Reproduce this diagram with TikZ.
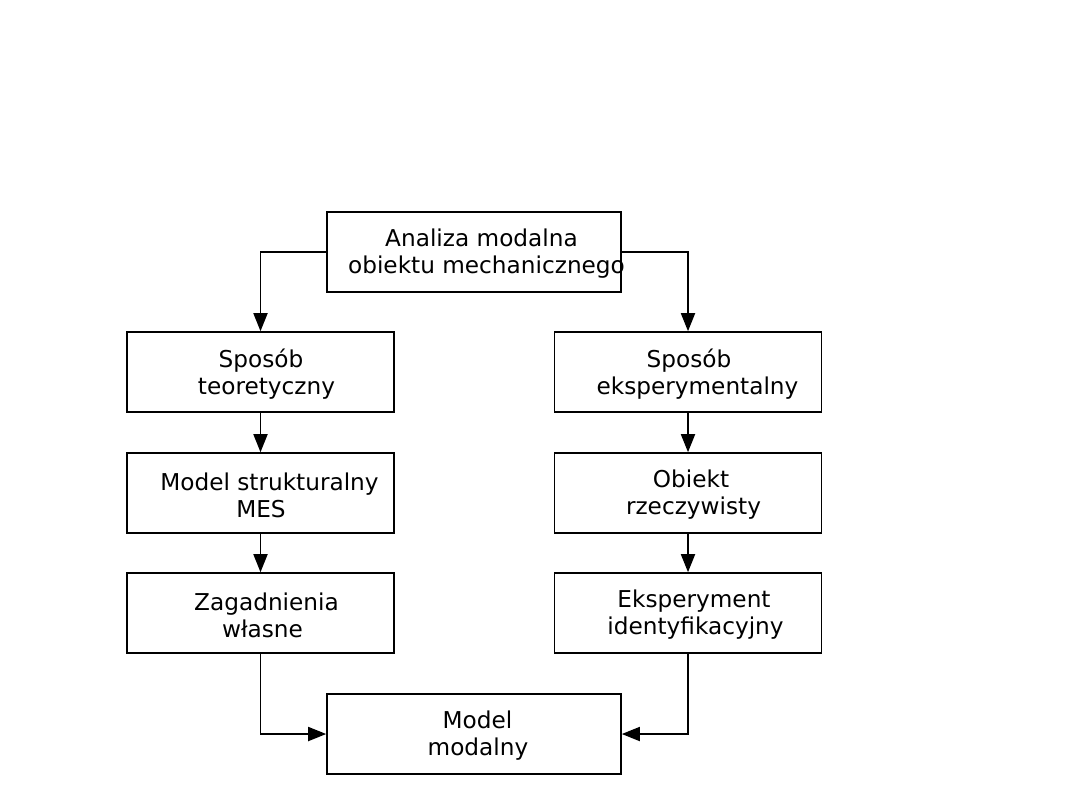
\documentclass[tikz,border=0pt]{standalone}
\usepackage{fontspec}
\setmainfont{DejaVu Sans}
\usetikzlibrary{arrows.meta}
\newcommand\shiftln[2]{\hspace*{#1pt}#2}
\begin{document}
\begin{tikzpicture}[x=0.5pt,y=-0.5pt,
  box/.style={draw,line width=0.8pt,minimum width=133.5pt,minimum height=40pt,inner sep=0pt},
  wide/.style={box,minimum width=147pt},
  txt/.style={align=center,inner sep=0pt,yshift=-1pt,font=\fontsize{11.6}{13.5}\selectfont},
  conn/.style={line width=0.9pt,-{Triangle[length=9pt,width=7pt]}}]
\useasboundingbox (0,0) rectangle (1080,810);
\node[wide,label={[txt]center:\shiftln{7.5}{Analiza modalna}\\\shiftln{12.5}{obiektu mechanicznego}}] (top) at (474,252) {};
\node[box,label={[txt]center:\shiftln{0.5}{Sposób}\\\shiftln{6}{teoretyczny}}] (l1) at (260.5,372) {};
\node[box,label={[txt]center:\shiftln{9}{Model strukturalny}\\\shiftln{0.5}{MES}}] (l2) at (260.5,493) {};
\node[box,label={[txt]center:\shiftln{6}{Zagadnienia}\\\shiftln{2}{własne}}] (l3) at (260.5,613) {};
\node[box,label={[txt]center:\shiftln{1}{Sposób}\\\shiftln{9.5}{eksperymentalny}}] (r1) at (688,372) {};
\node[box,label={[txt]center:\shiftln{3}{Obiekt}\\\shiftln{5.5}{rzeczywisty}}] (r2) at (688,493) {};
\node[box,label={[txt]center:\shiftln{6}{Eksperyment}\\\shiftln{7.5}{identyfikacyjny}}] (r3) at (688,613) {};
\node[wide,label={[txt]center:\shiftln{3.5}{Model}\\\shiftln{4}{modalny}}] (bot) at (474,734) {};
\draw[conn] (top.west) -| (l1.north);
\draw[conn] (top.east) -| (r1.north);
\draw[conn] (l1) -- (l2);
\draw[conn] (l2) -- (l3);
\draw[conn] (r1) -- (r2);
\draw[conn] (r2) -- (r3);
\draw[conn] (l3.south) |- (bot.west);
\draw[conn] (r3.south) |- (bot.east);
\end{tikzpicture}
\end{document}
